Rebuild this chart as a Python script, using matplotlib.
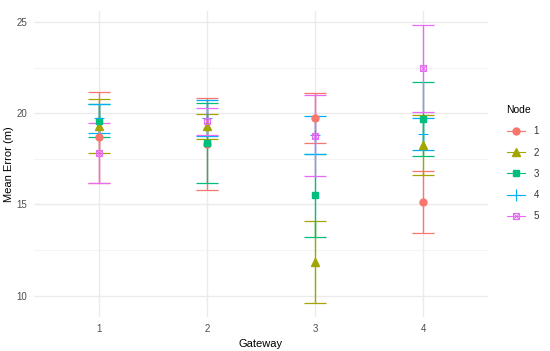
import matplotlib
matplotlib.use("Agg")
import matplotlib.pyplot as plt
from matplotlib.lines import Line2D
from matplotlib.legend_handler import HandlerTuple

plt.rcParams['font.family'] = ['Liberation Sans', 'DejaVu Sans']

# -------------------------------------------------
# Data
# -------------------------------------------------
gateways = [1, 2, 3, 4]
nodes = ["1", "2", "3", "4", "5"]

node1_mean = [18.68, 18.30, 19.73, 15.13]
node1_err = [2.50, 2.53, 1.35, 1.69]
node2_mean = [19.32, 19.27, 11.84, 18.25]
node2_err = [1.48, 0.67, 2.24, 1.64]
node3_mean = [19.58, 18.36, 15.49, 19.69]
node3_err = [0.90, 2.20, 2.27, 2.03]
node4_mean = [19.71, 19.74, 18.80, 18.84]
node4_err = [0.82, 0.98, 1.06, 0.87]
node5_mean = [17.81, 19.55, 18.77, 22.45]
node5_err = [1.63, 0.72, 2.22, 2.37]

means = [node1_mean, node2_mean, node3_mean, node4_mean, node5_mean]
errs = [node1_err, node2_err, node3_err, node4_err, node5_err]

colors = ["#F8766D", "#A3A500", "#00BF7D", "#00B0F6", "#E76BF3"]
markers = ["o", "^", "s", "+", "s"]
lw = 0.8

# -------------------------------------------------
# Plot
# -------------------------------------------------
fig = plt.figure(figsize=(5.5, 3.51), dpi=100)
ax = fig.add_axes([0.0618, 0.0977, 0.8255, 0.8698])

for i in range(len(nodes)):
    eb = ax.errorbar(gateways, means[i], yerr=errs[i], fmt="none",
                     ecolor=colors[i], elinewidth=1.0, capsize=7.9,
                     capthick=0.9, zorder=2)
    # snap vertical lines to the pixel grid so overlaps keep their colour
    for lc in eb[2]:
        lc.set_snap(True)

handles = []
for i in range(len(nodes)):
    if i == 4:
        ax.plot(gateways, means[i], linestyle="none", marker="s",
                markersize=5, markerfacecolor="none",
                markeredgecolor=colors[i], markeredgewidth=lw, zorder=3)
        ax.plot(gateways, means[i], linestyle="none", marker="x",
                markersize=3.8, color=colors[i], markeredgewidth=lw, zorder=3)
        l1 = Line2D([], [], color=colors[i], lw=lw, marker="s", markersize=5,
                    markerfacecolor="none", markeredgecolor=colors[i],
                    markeredgewidth=lw)
        l2 = Line2D([], [], color=colors[i], lw=0, marker="x", markersize=3.8,
                    markeredgewidth=lw)
        handles.append((l1, l2))
    elif i == 3:
        ax.plot(gateways, means[i], linestyle="none", marker="+",
                markersize=7, color=colors[i], markeredgewidth=lw, zorder=3)
        handles.append(Line2D([], [], color=colors[i], lw=lw, marker="+",
                              markersize=9, markeredgewidth=lw))
    else:
        ms = 5.5 if i == 1 else 5
        ax.plot(gateways, means[i], linestyle="none", marker=markers[i],
                markersize=ms, color=colors[i], zorder=3)
        handles.append(Line2D([], [], color=colors[i], lw=lw,
                              marker=markers[i], markersize=ms))

ax.set_xlim(0.4, 4.6)
ax.set_ylim(8.84, 25.58)
ax.set_xticks(gateways)
ax.set_xticklabels([str(g) for g in gateways])
ax.set_yticks([10, 15, 20, 25])
ax.set_yticks([12.5, 17.5, 22.5], minor=True)

ax.grid(True, which="major", color="#EBEBEB", linewidth=1.0, zorder=0)
ax.grid(True, which="minor", axis="y", color="#F2F2F2", linewidth=0.6, zorder=0)
ax.set_axisbelow(True)
for s in ax.spines.values():
    s.set_visible(False)
ax.tick_params(which="both", length=0, labelsize=7, labelcolor="#4D4D4D", pad=5)

ax.set_xlabel("Gateway", fontsize=8, labelpad=4)
ax.set_ylabel("Mean Error (m)", fontsize=8, labelpad=2)

leg = fig.legend(handles, nodes, title="Node", loc="upper left",
                 bbox_to_anchor=(0.905, 0.725), frameon=False, fontsize=7,
                 title_fontsize=7.5, handlelength=1.9, handletextpad=0.9,
                 labelspacing=1.15, alignment="left",
                 handler_map={tuple: HandlerTuple(ndivide=1, pad=0)})
for t in leg.get_texts():
    t.set_color("#333333")

fig.savefig("out.png", dpi=100)
